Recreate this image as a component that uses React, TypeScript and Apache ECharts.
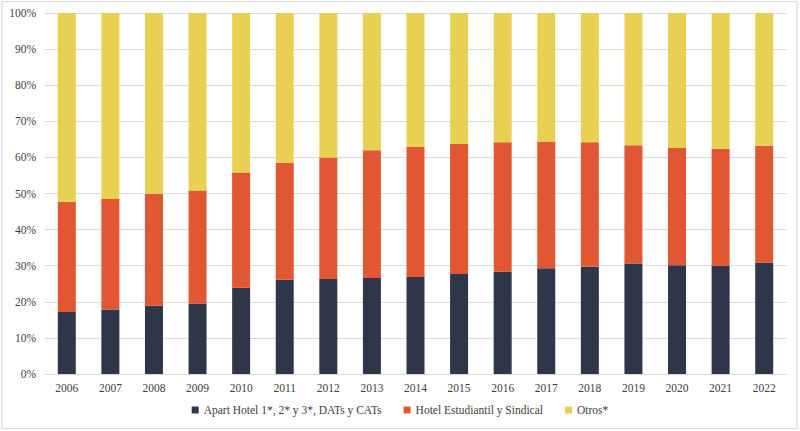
import React, { useEffect, useRef } from "react";
import * as echarts from "echarts";

const years = ["2006","2007","2008","2009","2010","2011","2012","2013","2014","2015","2016","2017","2018","2019","2020","2021","2022"];
const apartTotal = [17.2,17.9,18.9,19.5,23.9,26.1,26.3,26.6,26.9,27.7,28.3,29.3,29.7,30.6,30.1,30.0,30.9];
const cumulativeHotel = [47.7,48.5,49.9,50.8,55.8,58.5,60.0,62.0,62.9,63.7,64.2,64.4,64.2,63.4,62.6,62.3,63.2];
const hotelEstudiantil = cumulativeHotel.map((c, i) => +(c - apartTotal[i]).toFixed(1));
const otros = cumulativeHotel.map((c) => +(100 - c).toFixed(1));
const seriesNames = ["Apart Hotel 1*, 2* y 3*, DATs y CATs", "Hotel Estudiantil y Sindical", "Otros*"];
const colors = ["#30364a", "#e15633", "#e8d152"];

const FONT = "Liberation Serif";

export default function App() {
  const ref = useRef<HTMLDivElement>(null);
  useEffect(() => {
    document.body.style.margin = "0";
    const chart = echarts.init(ref.current!, null, { renderer: "svg" });
    const data = [apartTotal, hotelEstudiantil, otros];
    chart.setOption({
      animation: false,
      textStyle: { fontFamily: FONT },
      graphic: [
        {
          type: "rect",
          shape: { x: 2, y: 1.5, width: 795, height: 427 },
          style: { fill: "none", stroke: "#d9d9d9", lineWidth: 1.2 },
          silent: true,
        },
      ],
      grid: { left: 45, right: 14, top: 13, bottom: 57, containLabel: false },
      legend: {
        bottom: 10,
        left: "center",
        itemWidth: 7,
        itemHeight: 7,
        itemGap: 22,
        icon: "rect",
        textStyle: { fontFamily: FONT, fontSize: 11.5, color: "#404040" },
        data: seriesNames,
      },
      xAxis: {
        type: "category",
        data: years,
        axisLine: { lineStyle: { color: "#d9d9d9", width: 1 } },
        axisTick: { show: false },
        axisLabel: { color: "#404040", fontFamily: FONT, fontSize: 11.5, margin: 8 },
      },
      yAxis: {
        type: "value",
        min: 0,
        max: 100,
        interval: 10,
        axisLine: { show: false },
        axisTick: { show: false },
        axisLabel: { formatter: "{value}%", color: "#404040", fontFamily: FONT, fontSize: 11.5, margin: 9 },
        splitLine: { lineStyle: { color: "#d9d9d9", width: 1 } },
      },
      series: seriesNames.map((name, i) => ({
        name,
        type: "bar",
        stack: "total",
        barWidth: 18,
        data: data[i],
        itemStyle: { color: colors[i] },
      })),
    });
    return () => chart.dispose();
  }, []);
  return <div ref={ref} style={{ width: 800, height: 431 }} />;
}
